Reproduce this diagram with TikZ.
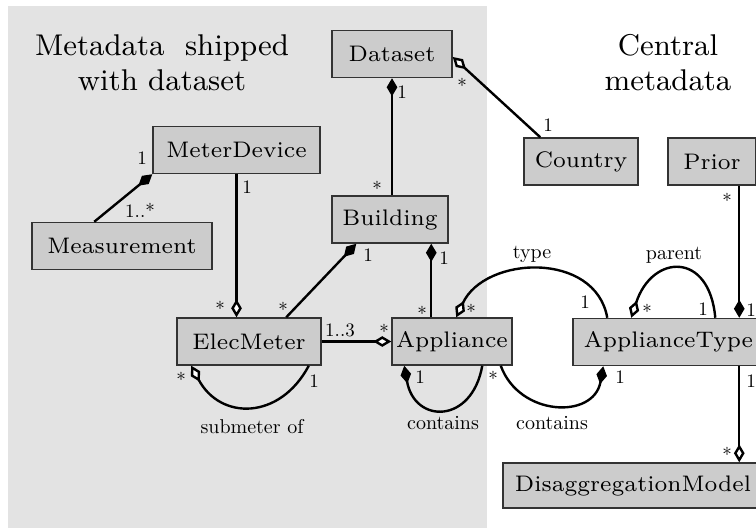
\documentclass[tikz,border=0pt]{standalone}
\usepackage{graphicx}
\usetikzlibrary{arrows.meta}
\definecolor{panel}{HTML}{E3E3E3}
\definecolor{boxfill}{HTML}{CCCCCC}
% small labels are set in the 10pt design and shrunk
\newcommand\mlt[1]{\scalebox{0.57}{#1}}
\newcommand\rlt[1]{\scalebox{0.6}{#1}}
\tikzset{
  cls/.style={draw=black!80, line width=0.45pt, fill=boxfill, inner sep=0pt,
    minimum height=14.1pt, font=\fontsize{6.75}{8}\selectfont},
  assoc/.style={line width=0.72pt},
  whole/.style={{Diamond[length=5.4pt,width=3.2pt]}-},
  agg/.style={{Diamond[length=5.4pt,width=3.2pt,open,fill=white]}-},
  mult/.style={inner sep=0pt, font=\fontsize{10}{12}\selectfont},
  role/.style={inner sep=0pt, font=\fontsize{10}{12}\selectfont},
  heading/.style={inner sep=0pt, align=center, font=\fontsize{9}{10.5}\selectfont},
}
\begin{document}
\begin{tikzpicture}[x=0.3pt, y=-0.3pt]
\useasboundingbox (0,0) rectangle (756,528);
% shaded area: metadata that ships with each dataset
\fill[panel] (8,6) rectangle (487,528);

\node[heading] (hdata) at (162,63) {Metadata\ \ shipped\\with dataset};
\node[heading] (hcentral) at (668,63) {Central\\metadata};

% classes
\node[cls, minimum width=36pt]   (Dataset)     at (392,54)    {Dataset};
\node[cls, minimum width=50.1pt] (MeterDevice) at (236.5,150) {MeterDevice};
\node[cls, minimum width=54pt]   (Measurement) at (122,246)   {Measurement};
\node[cls, minimum width=34.8pt] (Building)    at (390,219.5) {Building};
\node[cls, minimum width=34.2pt] (Country)     at (581,161.5) {Country};
\node[cls, minimum width=26.4pt] (Prior)       at (712,161.5) {Prior};
\node[cls, minimum width=43.2pt] (ElecMeter)   at (249,341.5) {ElecMeter};
\node[cls, minimum width=36pt]   (Appliance)   at (452,341.5) {Appliance};
\node[cls, minimum width=57.3pt] (ApplianceType) at (668.5,342) {ApplianceType};
\node[cls, minimum width=78pt, minimum height=13.5pt] (DisaggregationModel) at (633,485.5) {DisaggregationModel};

% associations
\draw[assoc, agg] ([yshift=-0.9pt]Dataset.east) -- ([xshift=5.1pt]Country.north west);
\draw[assoc, whole] (Dataset.south) -- (Dataset.south |- Building.north);
\draw[assoc, whole] (MeterDevice.south west) -- ([xshift=18.9pt]Measurement.north west);
\draw[assoc, agg] (MeterDevice.south |- ElecMeter.north) -- (MeterDevice.south);
\draw[assoc, whole] ([xshift=7.5pt]Building.south west) -- ([xshift=33pt]ElecMeter.north west);
\coordinate (apTop) at ([xshift=12pt]Appliance.north west);
\draw[assoc, whole] (apTop |- Building.south) -- (apTop);
\draw[assoc, agg] (Appliance.west) -- (ElecMeter.east);
\draw[assoc, agg] ([xshift=4.5pt]ElecMeter.south west)
  to[out=-62, in=-118, looseness=1.35] ([xshift=-3.9pt]ElecMeter.south east);
\draw[assoc, whole] ([xshift=3.9pt]Appliance.south west)
  to[out=-80, in=-100, looseness=1.95] ([xshift=27.3pt]Appliance.south west);
\draw[assoc, whole] ([xshift=9.3pt]ApplianceType.south west)
  to[out=-100, in=-70, looseness=1.35] ([xshift=-3.6pt]Appliance.south east);
\draw[assoc, agg] ([xshift=19.5pt]Appliance.north west)
  to[out=65, in=100, looseness=1.15] ([xshift=10.5pt]ApplianceType.north west);
\draw[assoc, agg] ([xshift=17.7pt]ApplianceType.north west)
  to[out=72, in=95, looseness=2.05] ([xshift=42.9pt]ApplianceType.north west);
\coordinate (atTop) at ([xshift=50.1pt]ApplianceType.north west);
\coordinate (atBot) at ([xshift=50.1pt]ApplianceType.south west);
\draw[assoc, whole] (atTop) -- (atTop |- Prior.south);
\draw[assoc, agg] (atBot |- DisaggregationModel.north) -- (atBot);

% multiplicities
\node[mult] (m1)  at (462,85)  {\mlt{*}};
\node[mult] (m2)  at (548,125) {\mlt{1}};
\node[mult] (m3)  at (402,92)  {\mlt{1}};
\node[mult] (m4)  at (377,188) {\mlt{*}};
\node[mult] (m5)  at (142,158) {\mlt{1}};
\node[mult] (m6)  at (140,210) {\mlt{1..*}};
\node[mult] (m7)  at (247,187) {\mlt{1}};
\node[mult] (m8)  at (220,308) {\mlt{*}};
\node[mult] (m9)  at (368,255) {\mlt{1}};
\node[mult] (m10) at (283,309) {\mlt{*}};
\node[mult] (m11) at (444,258) {\mlt{1}};
\node[mult] (m12) at (422,313) {\mlt{*}};
\node[mult] (m13) at (340,330) {\mlt{1..3}};
\node[mult] (m14) at (384,331) {\mlt{*}};
\node[mult] (m15) at (181,379) {\mlt{*}};
\node[mult] (m16) at (314,381) {\mlt{1}};
\node[mult] (m17) at (420,377) {\mlt{1}};
\node[mult] (m18) at (493,378) {\mlt{*}};
\node[mult] (m19) at (620,377) {\mlt{1}};
\node[mult] (m20) at (471,311) {\mlt{*}};
\node[mult] (m21) at (585,302) {\mlt{1}};
\node[mult] (m22) at (647,311) {\mlt{*}};
\node[mult] (m23) at (703,309) {\mlt{1}};
\node[mult] (m24) at (727,200) {\mlt{*}};
\node[mult] (m25) at (751,310) {\mlt{1}};
\node[mult] (m26) at (751,381) {\mlt{1}};
\node[mult] (m27) at (727,454) {\mlt{*}};

% role names
\node[role] (r1) at (252,427) {\rlt{submeter of}};
\node[role] (r2) at (443,423) {\rlt{contains}};
\node[role] (r3) at (552,423) {\rlt{contains}};
\node[role] (r4) at (532,254) {\rlt{type}};
\node[role] (r5) at (674,255) {\rlt{parent}};
\end{tikzpicture}
\end{document}
